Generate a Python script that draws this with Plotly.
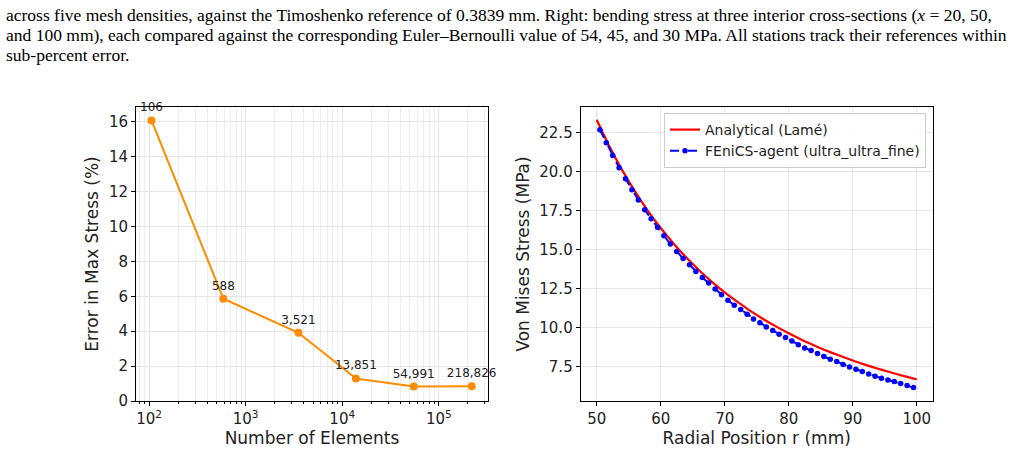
import plotly.graph_objects as go

# ---------------- data ----------------
elements = [106, 588, 3521, 13851, 54991, 218826]
error_pct = [16.08, 5.86, 3.91, 1.29, 0.83, 0.84]

r_analytical = [50, 52, 54, 56, 58, 60, 62, 64, 66, 68, 70, 72, 74, 76, 78,
                80, 82, 84, 86, 88, 90, 92, 94, 96, 98, 100]
vm_analytical = [23.33, 21.61, 20.08, 18.71, 17.48, 16.38, 15.39, 14.48, 13.67,
                 12.92, 12.24, 11.63, 11.06, 10.54, 10.06, 9.62, 9.21, 8.84,
                 8.49, 8.17, 7.87, 7.59, 7.34, 7.10, 6.87, 6.67]

r_fenics = [50.5, 51.5, 52.5, 53.5, 54.5, 55.5, 56.5, 57.5, 58.5, 59.5,
            60.5, 61.5, 62.5, 63.5, 64.5, 65.5, 66.5, 67.5, 68.5, 69.5,
            70.5, 71.5, 72.5, 73.5, 74.5, 75.5, 76.5, 77.5, 78.5, 79.5,
            80.5, 81.5, 82.5, 83.5, 84.5, 85.5, 86.5, 87.5, 88.5, 89.5,
            90.5, 91.5, 92.5, 93.5, 94.5, 95.5, 96.5, 97.5, 98.5, 99.5]
vm_fenics = [22.69, 21.85, 21.04, 20.25, 19.55, 18.83, 18.18, 17.55, 16.97, 16.42,
             15.88, 15.36, 14.87, 14.42, 14.02, 13.59, 13.20, 12.84, 12.47, 12.09,
             11.74, 11.42, 11.14, 10.84, 10.54, 10.29, 10.03, 9.79, 9.56, 9.34,
             9.13, 8.89, 8.68, 8.51, 8.32, 8.12, 7.95, 7.80, 7.61, 7.46,
             7.31, 7.16, 7.01, 6.86, 6.73, 6.62, 6.52, 6.39, 6.26, 6.13]

left_xtick_vals = [100, 1000, 10000, 100000]
left_xtick_text = ["10<sup>2</sup>", "10<sup>3</sup>", "10<sup>4</sup>", "10<sup>5</sup>"]
right_ytick_vals = [7.5, 10.0, 12.5, 15.0, 17.5, 20.0, 22.5]

caption_lines = [
    "across five mesh densities, against the Timoshenko reference of 0.3839 mm. Right: bending stress at three interior cross-sections (<i>x</i> = 20, 50,",
    "and 100 mm), each compared against the corresponding Euler\u2013Bernoulli value of 54, 45, and 30 MPa. All stations track their references within",
    "sub-percent error.",
]

# ---------------- layout geometry ----------------
W, H = 1022, 475
def px_x(p):
    return p / W
def px_y(p):
    return 1 - p / H

FONT = "DejaVu Sans"
TXT = "#222222"
GRID = "#e6e6e6"

fig = go.Figure()

fig.add_trace(go.Scatter(
    x=elements, y=error_pct,
    mode="lines+markers+text",
    text=[f"{n:,}" for n in elements],
    textposition="top center",
    textfont=dict(family=FONT, size=12, color=TXT),
    line=dict(color="#FF8C00", width=2),
    marker=dict(color="#FF8C00", size=8),
    cliponaxis=False,
    showlegend=False,
    xaxis="x", yaxis="y",
))

fig.add_trace(go.Scatter(
    x=r_analytical, y=vm_analytical,
    mode="lines",
    line=dict(color="red", width=2.2, shape="spline"),
    name="Analytical (Lamé)",
    xaxis="x2", yaxis="y2",
))

fig.add_trace(go.Scatter(
    x=r_fenics, y=vm_fenics,
    mode="lines+markers",
    line=dict(color="blue", width=2, dash="dash"),
    marker=dict(color="blue", size=5.5),
    name="FEniCS-agent (ultra_ultra_fine)",
    xaxis="x2", yaxis="y2",
))

axis_common = dict(
    showline=True, linecolor="black", linewidth=1, mirror=True,
    ticks="outside", ticklen=4, tickcolor="black",
    tickfont=dict(family=FONT, size=15, color=TXT),
    showgrid=True, gridcolor=GRID, gridwidth=1,
    zeroline=False, automargin=False,
)

ydom = [px_y(401), px_y(107)]
title_font = dict(family=FONT, size=17, color=TXT)

fig.update_layout(
    width=W, height=H,
    margin=dict(l=0, r=0, t=0, b=0, autoexpand=False),
    paper_bgcolor="white", plot_bgcolor="white",
    font=dict(family=FONT, color=TXT),
    xaxis=dict(
        axis_common,
        domain=[px_x(136), px_x(488)],
        type="log", range=[1.865, 5.509],
        tickmode="array", tickvals=left_xtick_vals, ticktext=left_xtick_text,
        minor=dict(showgrid=True, gridcolor="#eeeeee", ticks="outside",
                   ticklen=2, tickcolor="black",
                   tickvals=[v * k for v in [10, 100, 1000, 10000, 100000] for k in range(2, 10)]),
        title=dict(text="Number of Elements", font=title_font, standoff=4),
        anchor="y",
    ),
    yaxis=dict(
        axis_common,
        domain=ydom,
        range=[0, 16.85], dtick=2, tick0=0,
        title=dict(text="Error in Max Stress (%)", font=title_font, standoff=5),
        anchor="x",
    ),
    xaxis2=dict(
        axis_common,
        domain=[px_x(580.7), px_x(932.7)],
        range=[47.5, 102.5], dtick=10, tick0=50,
        title=dict(text="Radial Position r (mm)", font=title_font, standoff=4),
        anchor="y2",
    ),
    yaxis2=dict(
        axis_common,
        domain=ydom,
        range=[5.27, 24.15],
        tickmode="array", tickvals=right_ytick_vals,
        ticktext=[f"{v:.1f}" for v in right_ytick_vals],
        title=dict(text="Von Mises Stress (MPa)", font=title_font, standoff=5),
        anchor="x2",
    ),
    legend=dict(
        x=px_x(926), y=px_y(113), xanchor="right", yanchor="top",
        bgcolor="rgba(255,255,255,0.85)", bordercolor="#cccccc", borderwidth=1,
        font=dict(family=FONT, size=14, color=TXT),
        tracegroupgap=0, itemwidth=30,
    ),
)

cap_y = [15, 35, 55]
for line, yy in zip(caption_lines, cap_y):
    fig.add_annotation(
        text=line, xref="paper", yref="paper",
        x=px_x(4), y=px_y(yy), xanchor="left", yanchor="middle",
        showarrow=False,
        font=dict(family="Liberation Serif", size=17.5, color="black"),
    )

fig.write_html("out.html")
